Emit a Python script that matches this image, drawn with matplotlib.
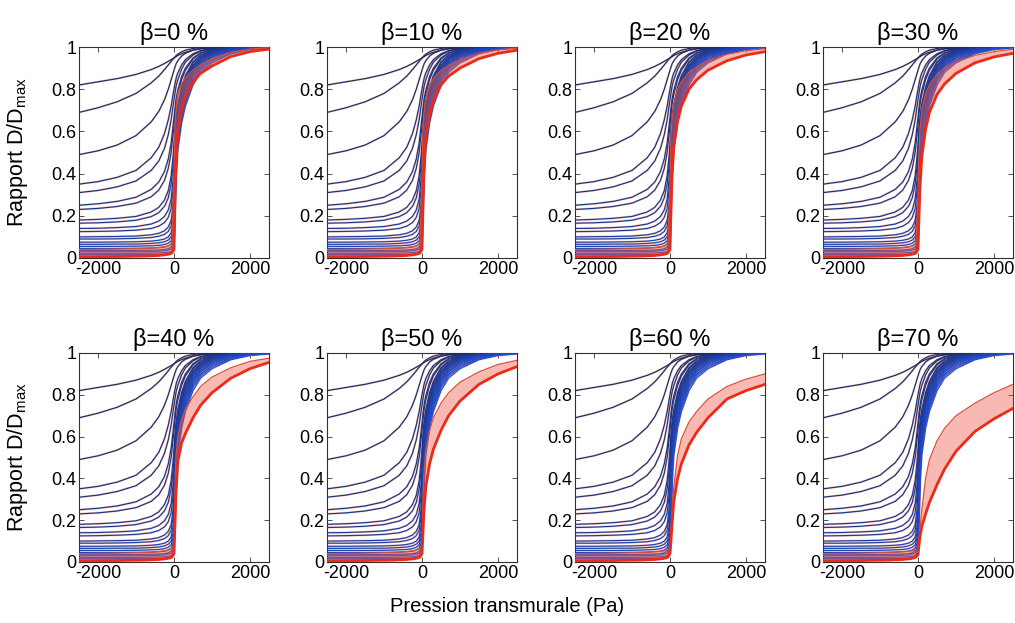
import matplotlib
matplotlib.use("Agg")
import matplotlib.pyplot as plt
import numpy as np

plt.rcParams['font.family'] = ['Liberation Sans', 'DejaVu Sans']
plt.rcParams['mathtext.default'] = 'regular'

# ---------------- data ----------------
betas = [0, 10, 20, 30, 40, 50, 60, 70]

# pressure grid for the blue (beta-independent) family
p_blue = [-2500, -2000, -1500, -1000, -600, -400, -250, -150, -75, -25, 0, 25, 60, 100,
          200, 300, 500, 700, 1000, 1500, 2000, 2500]

blue_0 = [.82, .835, .85, .87, .893, .908, .922, .932, .94, .945, .948, .951, .955, .96, .968, .975, .985, .991, .996, .999, 1, 1]
blue_1 = [.69, .712, .74, .78, .83, .862, .893, .915, .932, .943, .948, .953, .96, .966, .977, .985, .993, .997, 1, 1, 1, 1]
blue_2 = [.49, .508, .535, .58, .645, .695, .75, .8, .845, .875, .89, .905, .922, .935, .957, .97, .985, .993, .998, 1, 1, 1]
blue_3 = [.35, .362, .382, .415, .475, .525, .59, .655, .72, .775, .80, .825, .855, .877, .915, .94, .968, .983, .994, .999, 1, 1]
blue_4 = [.31, .32, .337, .365, .415, .46, .52, .585, .655, .72, .75, .78, .818, .845, .895, .928, .962, .98, .993, .999, 1, 1]
blue_5 = [.25, .257, .268, .288, .325, .36, .41, .47, .545, .625, .665, .71, .76, .795, .86, .9, .948, .972, .99, .998, 1, 1]
blue_6 = [.23, .235, .244, .26, .29, .322, .368, .425, .5, .585, .63, .68, .735, .775, .845, .89, .943, .97, .988, .998, 1, 1]
blue_7 = [.18, .183, .188, .197, .218, .24, .275, .32, .39, .48, .54, .61, .68, .73, .81, .865, .93, .962, .985, .997, 1, 1]
blue_8 = [.165, .167, .171, .179, .196, .215, .245, .285, .35, .44, .5, .58, .66, .715, .8, .855, .925, .958, .983, .996, 1, 1]
blue_9 = [.14, .141, .144, .149, .161, .175, .197, .228, .28, .37, .44, .54, .635, .695, .785, .845, .915, .952, .98, .995, 1, 1]
blue_10 = [.125, .126, .128, .132, .14, .151, .168, .193, .235, .32, .4, .51, .615, .68, .775, .835, .91, .948, .977, .994, 1, 1]
blue_11 = [.10, .101, .102, .104, .11, .117, .129, .147, .178, .25, .33, .47, .59, .66, .76, .825, .903, .943, .974, .993, .999, 1]
blue_12 = [.09, .09, .091, .093, .097, .103, .112, .126, .152, .215, .29, .44, .57, .645, .75, .815, .895, .938, .971, .992, .999, 1]
blue_13 = [.075, .075, .076, .077, .08, .084, .09, .1, .12, .17, .24, .4, .55, .63, .738, .805, .888, .932, .967, .99, .998, 1]
blue_14 = [.065, .065, .066, .066, .069, .072, .077, .085, .1, .14, .2, .37, .53, .615, .725, .795, .88, .926, .963, .988, .997, 1]
blue_15 = [.055, .055, .055, .056, .058, .06, .064, .07, .082, .115, .165, .34, .51, .6, .712, .783, .872, .92, .958, .986, .996, 1]
blue_16 = [.045, .045, .045, .046, .047, .049, .052, .057, .066, .09, .13, .3, .49, .585, .7, .772, .864, .913, .953, .983, .995, .999]
blue_17 = [.035, .035, .035, .036, .037, .038, .04, .044, .051, .07, .1, .27, .47, .57, .688, .76, .855, .906, .947, .98, .994, .999]
blue_18 = [.03, .03, .03, .03, .031, .032, .034, .037, .042, .058, .085, .24, .45, .555, .675, .748, .845, .898, .94, .976, .992, .998]
blue_19 = [.022, .022, .022, .022, .023, .024, .025, .027, .031, .043, .065, .2, .42, .535, .66, .735, .835, .89, .933, .972, .99, .997]
blue_20 = [.016, .016, .016, .016, .017, .017, .018, .02, .023, .032, .05, .16, .38, .51, .64, .72, .82, .88, .925, .968, .988, .996]

blue_curves = [blue_0, blue_1, blue_2, blue_3, blue_4, blue_5, blue_6, blue_7, blue_8, blue_9,
               blue_10, blue_11, blue_12, blue_13, blue_14, blue_15, blue_16, blue_17, blue_18,
               blue_19, blue_20]

# pressure grid for the red (beta-dependent) bundle
p_red = [-2500, -1500, -800, -400, -200, -100, -50, 0, 25, 50, 100, 200, 300, 500, 700, 1000, 1500, 2000, 2500]

red_top_b0 = [.04, .042, .045, .05, .055, .062, .075, .40, .62, .70, .78, .825, .855, .89, .915, .945, .975, .99, .997]
red_bot_b0 = [.006, .007, .009, .012, .016, .02, .025, .04, .30, .45, .60, .70, .765, .835, .875, .91, .955, .978, .99]
red_top_b10 = [.04, .042, .045, .05, .055, .062, .075, .38, .60, .68, .76, .82, .85, .89, .912, .94, .97, .986, .995]
red_bot_b10 = [.006, .007, .009, .012, .016, .02, .025, .04, .27, .42, .57, .68, .745, .82, .862, .90, .945, .97, .985]
red_top_b20 = [.04, .042, .045, .05, .055, .062, .075, .35, .57, .65, .73, .80, .835, .88, .905, .935, .965, .982, .992]
red_bot_b20 = [.006, .007, .009, .012, .016, .02, .025, .04, .24, .38, .53, .65, .72, .80, .845, .89, .935, .962, .978]
red_top_b30 = [.04, .042, .045, .05, .055, .062, .075, .30, .50, .60, .70, .78, .82, .87, .90, .93, .96, .978, .99]
red_bot_b30 = [.006, .007, .009, .012, .016, .02, .025, .04, .20, .33, .48, .61, .69, .775, .825, .875, .925, .953, .97]
red_top_b40 = [.04, .042, .045, .05, .055, .062, .07, .08, .35, .50, .60, .68, .73, .79, .84, .885, .93, .96, .975]
red_bot_b40 = [.006, .007, .009, .012, .016, .02, .025, .04, .18, .32, .48, .57, .615, .69, .75, .81, .88, .925, .955]
red_top_b50 = [.04, .042, .045, .05, .055, .062, .066, .07, .30, .42, .53, .63, .69, .76, .81, .86, .91, .945, .965]
red_bot_b50 = [.006, .007, .009, .012, .016, .02, .025, .04, .14, .24, .36, .47, .54, .63, .70, .77, .85, .90, .935]
red_top_b60 = [.04, .042, .045, .05, .052, .055, .058, .06, .15, .23, .36, .51, .59, .67, .72, .78, .84, .875, .90]
red_bot_b60 = [.006, .007, .009, .012, .016, .02, .025, .04, .10, .17, .29, .40, .47, .56, .62, .69, .78, .82, .85]
red_top_b70 = [.04, .042, .045, .05, .052, .055, .058, .06, .10, .16, .25, .40, .49, .58, .64, .70, .76, .81, .85]
red_bot_b70 = [.006, .007, .009, .012, .016, .02, .025, .035, .08, .12, .17, .23, .285, .37, .445, .53, .625, .685, .735]

red_tops = [red_top_b0, red_top_b10, red_top_b20, red_top_b30, red_top_b40, red_top_b50, red_top_b60, red_top_b70]
red_bots = [red_bot_b0, red_bot_b10, red_bot_b20, red_bot_b30, red_bot_b40, red_bot_b50, red_bot_b60, red_bot_b70]

x_ticks = [-2000, 0, 2000]
y_ticks = [0, 0.2, 0.4, 0.6, 0.8, 1]
y_ticklabels = ['0', '0.2', '0.4', '0.6', '0.8', '1']

# ---------------- figure ----------------
W, H = 1015, 623
fig = plt.figure(figsize=(W / 100, H / 100), dpi=100)

col_left = [79, 327, 575, 823]
row_top = [47, 353]
row_h = [211, 209]
ax_w = 190

frame_col = '#3a2c2c'
n_blue = len(blue_curves)

for k, beta in enumerate(betas):
    r, c = divmod(k, 4)
    ax = fig.add_axes([col_left[c] / W, 1 - (row_top[r] + row_h[r]) / H, ax_w / W, row_h[r] / H])

    # blue family
    for i, yv in enumerate(blue_curves):
        t = i / (n_blue - 1)
        col = (0.10 + 0.03 * t, 0.16 + 0.14 * t, 0.38 + 0.44 * t)
        ax.plot(p_blue, yv, color='#f0a898', lw=1.6, alpha=0.55, zorder=2)
        ax.plot(p_blue, yv, color=col, lw=0.85, zorder=3)

    # red bundle
    top = red_tops[k]
    bot = red_bots[k]
    ax.fill_between(p_red, bot, top, color='#ee5a46', alpha=0.42, lw=0, zorder=4)
    ax.plot(p_red, top, color='#d8503c', lw=0.9, zorder=5)
    ax.plot(p_red, bot, color='#ec2a18', lw=2.0, zorder=5)

    ax.set_xlim(-2500, 2500)
    ax.set_ylim(0, 1)
    ax.set_xticks(x_ticks)
    ax.set_xticklabels([str(v) for v in x_ticks])
    ax.set_yticks(y_ticks)
    ax.set_yticklabels(y_ticklabels)
    ax.tick_params(direction='in', length=3.5, width=0.6, top=True, right=True,
                   labelsize=13, colors=frame_col, labelcolor='black', pad=2)
    for s in ax.spines.values():
        s.set_color(frame_col)
        s.set_linewidth(0.8)
    ax.set_title('\u03b2=%d %%' % beta, fontsize=17, pad=5)
    if c == 0:
        ax.set_ylabel('Rapport D/D$_{max}$', fontsize=15.5)
        ax.yaxis.set_label_coords(-0.26, 0.5)

fig.text(507 / W, 1 - 607 / H, 'Pression transmurale (Pa)', ha='center', va='center', fontsize=14.5)

fig.savefig('out.png', dpi=100)
